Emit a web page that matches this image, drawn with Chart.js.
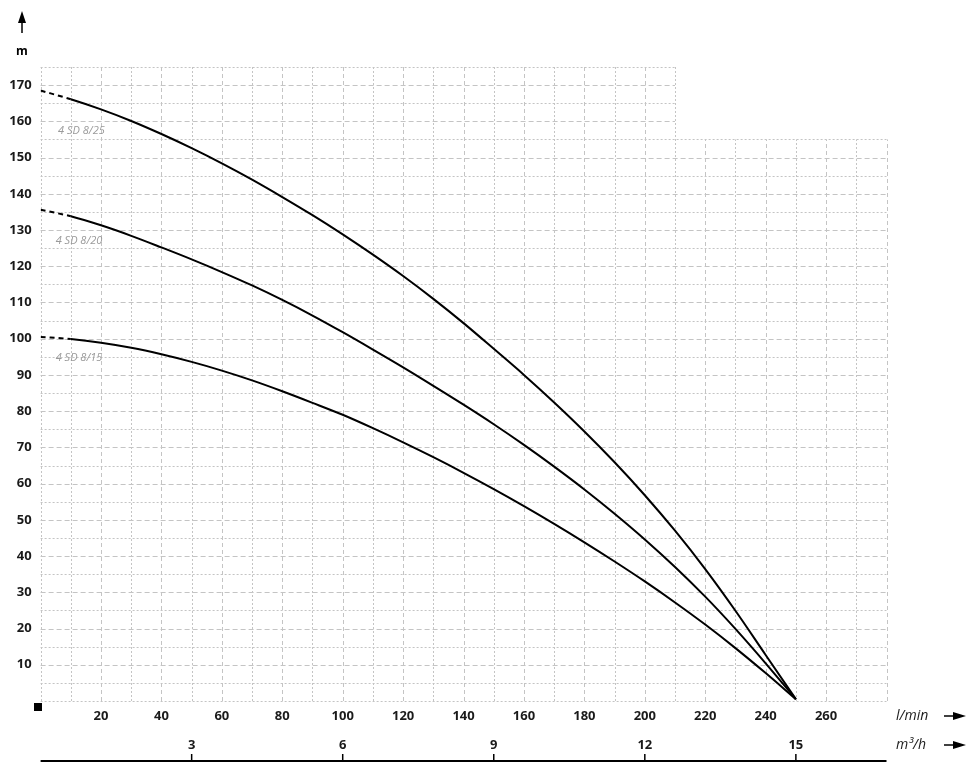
<!DOCTYPE html>
<html>
<head>
<meta charset="utf-8">
<script src="https://cdn.jsdelivr.net/npm/chart.js@4/dist/chart.umd.min.js"></script>
<style>
  html, body { margin: 0; padding: 0; background: #ffffff; }
  canvas { display: block; }
</style>
</head>
<body>
<canvas id="c" width="970" height="769"></canvas>
<script>
// ---- data ----
const flowLmin = [0,10,20,30,40,50,60,70,80,90,100,110,120,130,140,150,160,170,180,190,200,210,220,230,240,250];
const head_4SD_8_25 = [168.5,166.1,163.3,160.1,156.5,152.6,148.4,143.9,139.1,134.1,128.8,123.2,117.3,111.0,104.3,97.2,90.0,82.4,74.4,65.9,56.8,47.0,36.4,24.9,12.7,0.5];
const head_4SD_8_20 = [135.6,133.8,131.3,128.4,125.2,121.9,118.4,114.7,110.7,106.4,101.8,97.0,92.1,87.0,81.8,76.4,70.7,64.7,58.4,51.7,44.6,37.0,28.8,19.9,10.4,0.5];
const head_4SD_8_15 = [100.5,99.9,98.9,97.5,95.7,93.6,91.2,88.5,85.5,82.3,79.0,75.3,71.4,67.3,63.0,58.5,53.8,48.9,43.8,38.5,33.0,27.2,21.1,14.6,7.7,0.5];
const seriesNames = ['4 SD 8/25','4 SD 8/20','4 SD 8/15'];
const xTickLabels = [20,40,60,80,100,120,140,160,180,200,220,240,260];
const m3hTickLabels = [3,6,9,12,15];
const yTickLabels = [10,20,30,40,50,60,70,80,90,100,110,120,130,140,150,160,170];

// ---- helpers ----
function pts(ys){ return flowLmin.map((x,i)=>({x:x,y:ys[i]})); }
const FONT = '"Open Sans", "DejaVu Sans", sans-serif';
const TXT = '#1a1a1a';

function mkDataset(label, ys){
  return {
    label: label,
    data: pts(ys),
    borderColor: '#000000',
    borderWidth: 2,
    pointRadius: 0,
    fill: false,
    cubicInterpolationMode: 'monotone',
    segment: { borderDash: ctx => ctx.p0.parsed.x < 10 ? [5,4] : undefined }
  };
}

const gridPlugin = {
  id: 'gridPlugin',
  beforeDatasetsDraw(chart){
    const {ctx} = chart;
    const xs = chart.scales.x, ys = chart.scales.y;
    ctx.save();
    ctx.strokeStyle = '#c4c4c4';
    ctx.lineWidth = 1;
    // vertical lines
    for (let v = 0; v <= 280; v += 10){
      const px = Math.round(xs.getPixelForValue(v)) + 0.5;
      const topVal = v <= 210 ? 175 : 155;
      ctx.setLineDash(v % 20 === 0 && v>0 ? [4,3] : [2,2]);
      ctx.beginPath();
      ctx.moveTo(px, ys.getPixelForValue(0));
      ctx.lineTo(px, ys.getPixelForValue(topVal));
      ctx.stroke();
    }
    // horizontal lines
    for (let h = 0; h <= 175; h += 5){
      const py = Math.round(ys.getPixelForValue(h)) + 0.5;
      const rightVal = h <= 155 ? 280 : 210;
      ctx.setLineDash(h % 10 === 0 && h>0 ? [5,3] : [2,2]);
      ctx.beginPath();
      ctx.moveTo(xs.getPixelForValue(0), py);
      ctx.lineTo(xs.getPixelForValue(rightVal), py);
      ctx.stroke();
    }
    ctx.restore();
  },
  afterDatasetsDraw(chart){
    const {ctx} = chart;
    const xs = chart.scales.x, ys = chart.scales.y, x2 = chart.scales.x2;
    ctx.save();
    // curve labels
    ctx.fillStyle = '#9a9a9a';
    ctx.font = 'italic 11px ' + FONT;
    ctx.textBaseline = 'middle';
    ctx.textAlign = 'left';
    const lblPos = [[5.8,157.5],[5.0,126.9],[5.0,94.6]];
    seriesNames.forEach((n,i)=>{
      ctx.fillText(n, xs.getPixelForValue(lblPos[i][0]), ys.getPixelForValue(lblPos[i][1]));
    });

    ctx.fillStyle = '#000';
    ctx.strokeStyle = '#000';
    // y axis arrow
    const ax = 22;
    ctx.lineWidth = 1.5;
    ctx.beginPath(); ctx.moveTo(ax, 33); ctx.lineTo(ax, 18); ctx.stroke();
    ctx.beginPath(); ctx.moveTo(ax, 11); ctx.lineTo(ax-4, 23); ctx.lineTo(ax+4, 23); ctx.closePath(); ctx.fill();
    ctx.font = 'bold 12px ' + FONT;
    ctx.textAlign = 'center';
    ctx.fillText('m', ax, 52);

    // small square at origin
    ctx.fillRect(34, 703, 8, 8);

    // unit labels and arrows
    ctx.font = 'italic 14px ' + FONT;
    ctx.textAlign = 'left';
    ctx.fillStyle = TXT;
    ctx.fillText('l/min', 896, 716);
    ctx.fillText('m\u00B3/h', 896, 745);
    ctx.fillStyle = '#000';
    [716, 745].forEach(yy=>{
      ctx.lineWidth = 1.5;
      ctx.beginPath(); ctx.moveTo(944, yy); ctx.lineTo(956, yy); ctx.stroke();
      ctx.beginPath(); ctx.moveTo(966, yy); ctx.lineTo(953, yy-4); ctx.lineTo(953, yy+4); ctx.closePath(); ctx.fill();
    });

    // m3/h base line and ticks
    const lineY = 761;
    ctx.lineWidth = 2;
    ctx.beginPath();
    ctx.moveTo(xs.getPixelForValue(0), lineY);
    ctx.lineTo(xs.getPixelForValue(280), lineY);
    ctx.stroke();
    ctx.lineWidth = 1.5;
    m3hTickLabels.forEach(v=>{
      const px = x2.getPixelForValue(v);
      ctx.beginPath(); ctx.moveTo(px, lineY - 7); ctx.lineTo(px, lineY); ctx.stroke();
    });
    ctx.restore();
  }
};

new Chart(document.getElementById('c'), {
  type: 'line',
  data: {
    datasets: [
      mkDataset(seriesNames[0], head_4SD_8_25),
      mkDataset(seriesNames[1], head_4SD_8_20),
      mkDataset(seriesNames[2], head_4SD_8_15)
    ]
  },
  options: {
    responsive: false,
    animation: false,
    devicePixelRatio: 1,
    layout: { padding: { top: 67, right: 83.5, left: 0, bottom: 0 } },
    plugins: { legend: { display: false }, tooltip: { enabled: false } },
    scales: {
      x: {
        type: 'linear', position: 'bottom', min: 0, max: 280,
        grid: { display: false, drawTicks: false },
        border: { display: false },
        afterBuildTicks: s => { s.ticks = xTickLabels.map(v => ({value: v})); },
        afterFit: s => { s.height = 30; },
        ticks: { autoSkip: false, maxRotation: 0, padding: 7, color: TXT, font: { family: FONT, size: 13, weight: 'bold' } }
      },
      x2: {
        type: 'linear', position: 'bottom', min: 0, max: 16.8,
        grid: { display: false, drawTicks: false },
        border: { display: false },
        afterBuildTicks: s => { s.ticks = m3hTickLabels.map(v => ({value: v})); },
        afterFit: s => { s.height = 38; },
        ticks: { autoSkip: false, maxRotation: 0, padding: 6, color: TXT, font: { family: FONT, size: 13, weight: 'bold' } }
      },
      y: {
        type: 'linear', position: 'left', min: 0, max: 175,
        grid: { display: false, drawTicks: false },
        border: { display: false },
        afterBuildTicks: s => { s.ticks = yTickLabels.map(v => ({value: v})); },
        afterFit: s => { s.width = 40.6; },
        ticks: { autoSkip: false, padding: 9, color: TXT, font: { family: FONT, size: 13, weight: 'bold' } }
      }
    }
  },
  plugins: [gridPlugin]
});
</script>
</body>
</html>
